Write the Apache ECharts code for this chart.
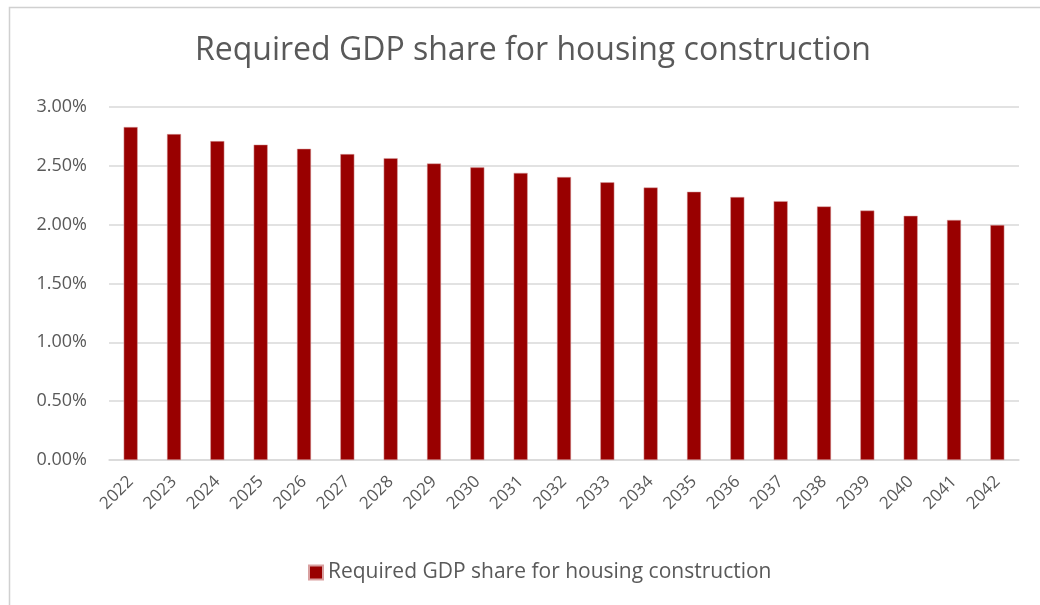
<!DOCTYPE html>
<html>
<head>
<meta charset="utf-8">
<script src="https://cdn.jsdelivr.net/npm/echarts@6/dist/echarts.min.js"></script>
<style>
  html, body { margin: 0; padding: 0; background: #fff; }
  #chart { width: 1040px; height: 605px; }
</style>
</head>
<body>
<div id="chart"></div>
<script>
const TITLE = "Required GDP share for housing construction";
const SERIES_NAME = "Required GDP share for housing construction";

const years = ["2022", "2023", "2024", "2025", "2026", "2027", "2028", "2029", "2030", "2031",
  "2032", "2033", "2034", "2035", "2036", "2037", "2038", "2039", "2040", "2041", "2042"];

// share of GDP, in percent
const gdpShare = [2.83, 2.77, 2.71, 2.68, 2.645, 2.60, 2.565, 2.52, 2.487, 2.44,
  2.405, 2.36, 2.316, 2.28, 2.235, 2.20, 2.155, 2.12, 2.075, 2.04, 1.997];

const FONT = "'Open Sans', 'Noto Sans', sans-serif";
const TEXT = "#595959";
const BAR = "#990000";

const chart = echarts.init(document.getElementById("chart"));

chart.setOption({
  animation: false,
  textStyle: { fontFamily: FONT },
  graphic: [{
    type: "rect",
    shape: { x: 9.5, y: 7.5, width: 1040, height: 620 },
    style: { fill: "none", stroke: "#d0d0d0", lineWidth: 1.5 },
    silent: true
  }],
  // title and legend sit a little right of centre, inside the framed box
  title: {
    text: TITLE,
    left: 190,
    top: 30,
    textStyle: { color: TEXT, fontSize: 32, fontWeight: "normal", fontFamily: FONT }
  },
  legend: {
    bottom: 17,
    left: 303,
    itemWidth: 14,
    itemHeight: 14,
    itemGap: 6,
    icon: "rect",
    textStyle: { color: TEXT, fontSize: 21, fontFamily: FONT },
    data: [SERIES_NAME]
  },
  grid: { left: 109, right: 21, top: 107, bottom: 145 },
  xAxis: {
    type: "category",
    data: years,
    axisLine: { lineStyle: { color: "#d9d9d9", width: 1.5 } },
    axisTick: { show: false },
    axisLabel: {
      color: TEXT,
      fontSize: 17,
      rotate: 45,
      margin: 19,
      interval: 0
    }
  },
  yAxis: {
    type: "value",
    min: 0,
    max: 3,
    interval: 0.5,
    axisLine: { show: false },
    axisTick: { show: false },
    splitLine: { lineStyle: { color: "#d9d9d9", width: 1.5 } },
    axisLabel: {
      color: TEXT,
      fontSize: 18,
      margin: 22,
      formatter: v => v.toFixed(2) + "%"
    }
  },
  series: [{
    name: SERIES_NAME,
    type: "bar",
    data: gdpShare,
    barWidth: 14,
    itemStyle: { color: BAR, borderColor: "#d9a0a0", borderWidth: 0.5 }
  }]
});
</script>
</body>
</html>
